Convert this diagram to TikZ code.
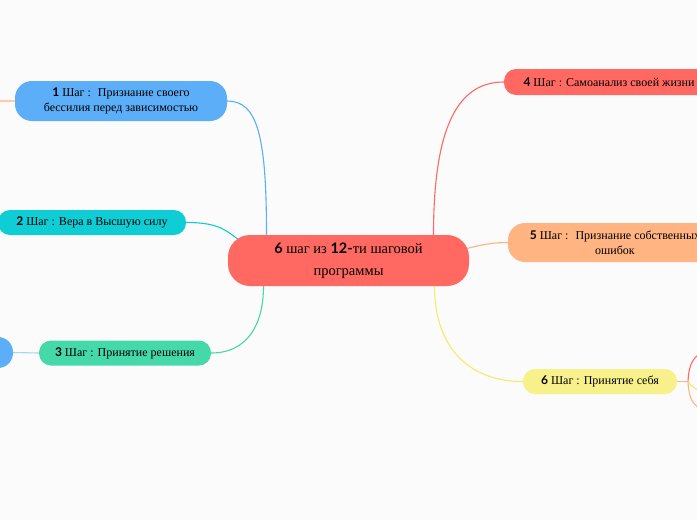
\documentclass[tikz,border=0pt]{standalone}
\usepackage{fontspec}
\setmainfont{Liberation Serif}
\newfontfamily\numfont{Lato}
\usepackage{tikz}
\usetikzlibrary{
  positioning,
  calc,
  backgrounds
}
\definecolor{mmBg}{HTML}{FBFBFB}
\definecolor{mmRed}{HTML}{FF6961}
\definecolor{mmBlue}{HTML}{5BAEF7}
\definecolor{mmCyan}{HTML}{0FCDD4}
\definecolor{mmGreen}{HTML}{45D8A8}
\definecolor{mmOrange}{HTML}{FFB482}
\definecolor{mmYellow}{HTML}{F8F08A}
\definecolor{mmYellowLine}{HTML}{F5EB6A}
\definecolor{mmPaleOrange}{HTML}{FFCBA8}
\definecolor{mmPaleBlue}{HTML}{A8D3F9}
\newcommand{\nr}[1]{{\numfont\bfseries #1}}
\tikzset{
  mmnode/.style={
    rounded corners=12pt, minimum height=25pt, inner sep=0pt,
    font=\fontsize{12}{15.5}\selectfont, align=center, text=black
  },
  mmtop/.style={mmnode, fill=mmRed, minimum width=241pt, minimum height=51pt,
    rounded corners=22pt, font=\fontsize{14.5}{22}\selectfont},
  mmstep/.style={mmnode, minimum width=170pt},
  mmtwo/.style={mmnode, minimum height=40pt, rounded corners=17pt},
  link/.style={line width=1.1pt}
}

\begin{document}
\begin{tikzpicture}[x=1pt, y=-1pt]
  \useasboundingbox (0,0) rectangle (697,520);
  % central topic
  \node[mmtop] (top) at (348.5,260.5) {\nr{6} шаг из \nr{12-}ти шаговой\\программы};
  % left steps
  \node[mmtwo, fill=mmBlue, minimum width=212pt] (s1) at (121,101) {\nr{1} Шаг :~ Признание своего\\бессилия перед зависимостью};
  \node[mmstep, fill=mmCyan, minimum width=188pt] (s2) at (92,222.5) {\nr{2} Шаг : Вера в Высшую силу};
  \node[mmstep, fill=mmGreen, minimum width=172pt] (s3) at (125,353) {\nr{3} Шаг : Принятие решения};
  \node[mmnode, fill=mmBlue, minimum width=60pt, minimum height=31pt, rounded corners=15pt] (s3a) at (-17,352.5) {};
  % right steps
  \node[mmstep, fill=mmRed, minimum width=210pt, minimum height=26pt] (s4) at (609,82) {\nr{4} Шаг : Самоанализ своей жизни};
  \node[mmtwo, fill=mmOrange, minimum width=214pt, minimum height=39pt] (s5) at (615,242.5) {\nr{5} Шаг :~ Признание собственных\\ошибок};
  \node[mmstep, fill=mmYellow, minimum width=154pt] (s6) at (600,381.5) {\nr{6} Шаг : Принятие себя};
  % free ends of cut-off branches
  \coordinate (c1) at (-20,101);
  \coordinate (j6) at (688,381.5);
  \coordinate (c6a) at (720,350);
  \coordinate (c6b) at (720,393);
  \coordinate (c6c) at (720,412);
  \begin{scope}[on background layer]
    \fill[mmBg] (0,0) rectangle (697,520);
    \draw[link, mmBlue] ($(top.north)+(-82,0)$) .. controls +(0,-100) and +(30,0) .. (s1.east);
    \draw[link, mmCyan] (s2.east) .. controls +(30,0) and +(-15,-12) .. ($(top.north west)+(12,6)$);
    \draw[link, mmGreen] (s3.east) .. controls +(35,0) and +(0,40) .. ($(top.south)+(-85,0)$);
    \draw[link, mmRed] ($(top.north)+(85,0)$) .. controls +(0,-110) and +(-45,0) .. (s4.west);
    \draw[link, mmOrange] ($(top.east)+(-2,-12)$) .. controls +(15,-4) and +(-15,0) .. (s5.west);
    \draw[link, mmYellowLine] ($(top.south)+(86,0)$) .. controls +(0,60) and +(-55,0) .. (s6.west);
    \draw[link, mmPaleOrange] (s1.west) -- (c1);
    \draw[link, mmPaleBlue] (s3.west) -- (s3a.east);
    \draw[link, mmOrange] (s6.east) -- (j6);
    \draw[link, mmRed] (j6) .. controls +(1,-26) and +(-20,0) .. (c6a);
    \draw[link, mmYellowLine] (j6) .. controls +(6,8) and +(-20,0) .. (c6b);
    \draw[link, mmOrange] (j6) .. controls +(1,26) and +(-20,0) .. (c6c);
  \end{scope}
\end{tikzpicture}
\end{document}
